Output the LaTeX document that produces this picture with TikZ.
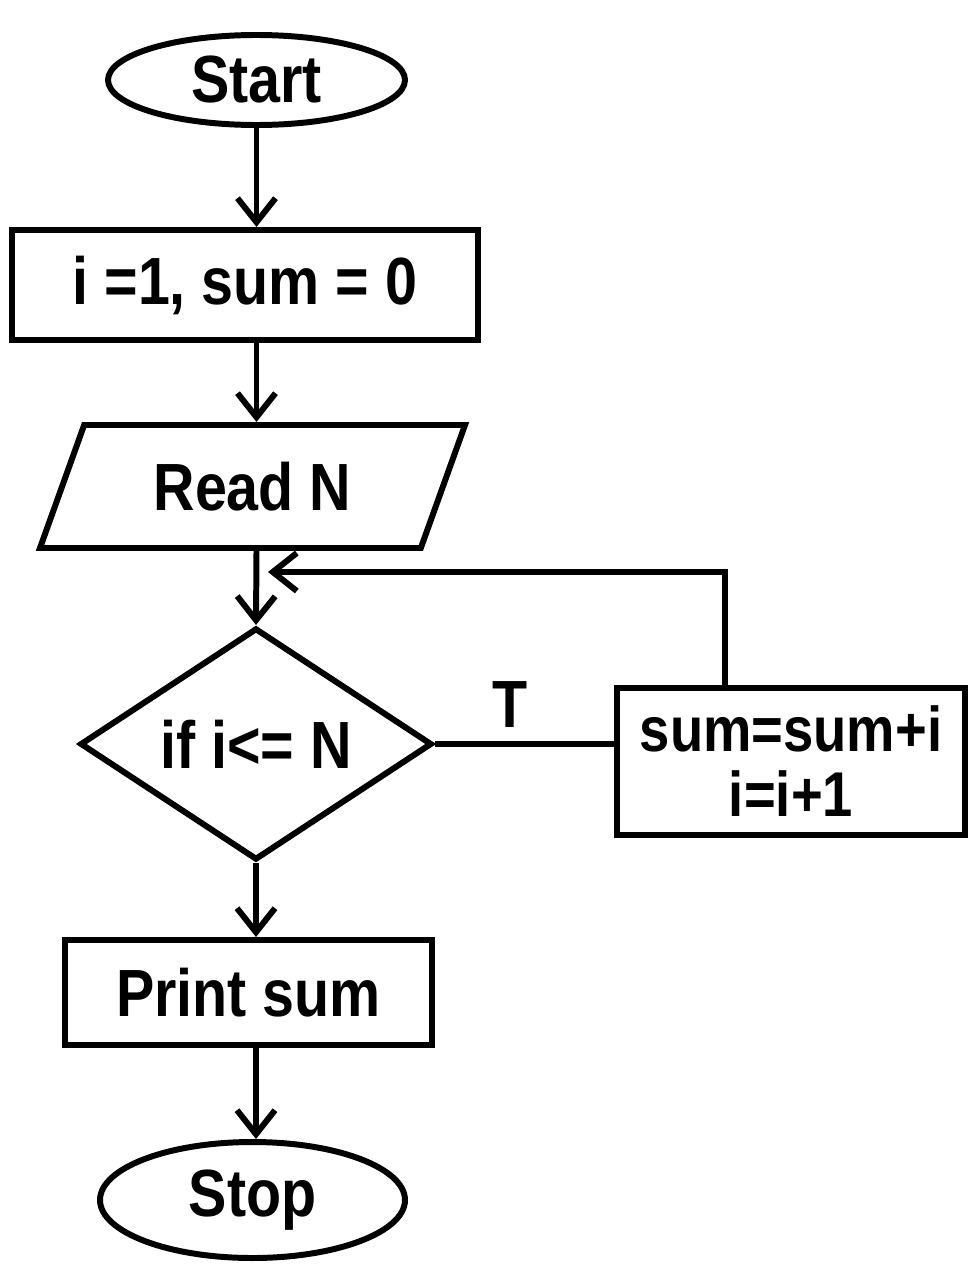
\documentclass[tikz,border=0pt]{standalone}
\usepackage{fontspec}
\setmainfont{Liberation Sans}[FakeStretch=0.86]
\usetikzlibrary{shapes.geometric,arrows.meta}

\begin{document}
\begin{tikzpicture}[->,>={Straight Barb[length=2.4mm,width=3.8mm]},line width=1.7pt,
  font=\fontsize{19}{21}\selectfont\bfseries,
  every node/.style={inner sep=0pt}]

\useasboundingbox (0,0) rectangle (9.71,-12.7);

\node (start) at (2.565,-0.80) [ellipse,draw,minimum width=2.97cm,minimum height=0.9cm] {Start};

\node (init) at (2.45,-2.85) [rectangle,draw,minimum width=4.66cm,minimum height=1.10cm] {i =1, sum = 0};

\node (read) at (2.525,-4.865) [trapezium,draw,trapezium left angle=48,trapezium right angle=132,
  trapezium stretches body,minimum width=4.25cm,minimum height=1.23cm] {Read N};

\node (cond) at (2.56,-7.44) [diamond,draw,shape aspect=1.52,minimum width=3.52cm,minimum height=2.32cm] {if i<= N};

\node (body) at (7.91,-7.615) [rectangle,draw,minimum width=3.48cm,minimum height=1.47cm,
  align=center,font=\fontsize{18}{18.5}\selectfont\bfseries] {sum=sum+i\\i=i+1};

\node (print) at (2.485,-9.925) [rectangle,draw,minimum width=3.67cm,minimum height=1.05cm] {Print sum};

\node (stop) at (2.525,-12.0) [ellipse,draw,minimum width=3.05cm,minimum height=1.16cm] {Stop};

\node (merge) [coordinate] at (2.68,-5.72) {};

\draw (start.south) -- (start.south |- init.north);
\draw (start.south |- init.south) -- (start.south |- read.north);
\draw (start.south |- read.south) -- (cond.north);
\draw (cond.south) -- (cond.south |- print.north);
\draw (cond.south |- print.south) -- (cond.south |- stop.north);

\draw [-] (cond.east) -- (cond.east -| body.west);
\draw (body.north -| 7.25,0) |- (merge);

\node (tlabel) at (5.1,-7.05) {T};

\end{tikzpicture}
\end{document}
